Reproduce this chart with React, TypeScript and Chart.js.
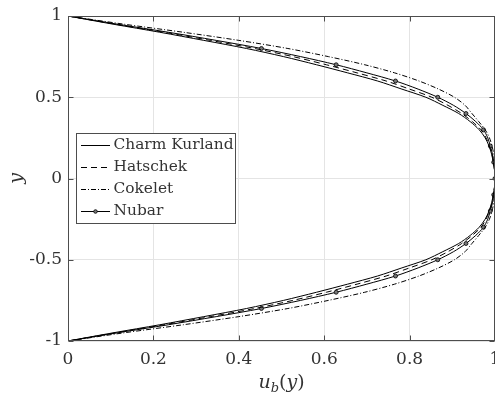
import React, { useEffect, useRef } from 'react';
import { Chart, registerables } from 'chart.js';

Chart.register(...registerables);

// y positions (vertical coordinate) shared by all profiles
const Y_VALUES = [
  1, 0.95, 0.9, 0.85, 0.8, 0.75, 0.7, 0.65, 0.6, 0.55, 0.5, 0.45, 0.4, 0.35, 0.3, 0.25, 0.2, 0.15, 0.1, 0.05, 0,
  -0.05, -0.1, -0.15, -0.2, -0.25, -0.3, -0.35, -0.4, -0.45, -0.5, -0.55, -0.6, -0.65, -0.7, -0.75, -0.8, -0.85, -0.9, -0.95, -1,
];

// u_b(y) for each model
const CHARM_KURLAND = [
  0, 0.105, 0.215, 0.318, 0.418, 0.505, 0.582, 0.655, 0.725, 0.782, 0.838, 0.878, 0.915, 0.942, 0.963, 0.977, 0.986, 0.992, 0.996, 0.999, 1,
  0.999, 0.996, 0.992, 0.986, 0.977, 0.963, 0.942, 0.915, 0.878, 0.838, 0.782, 0.725, 0.655, 0.582, 0.505, 0.418, 0.318, 0.215, 0.105, 0,
];
const HATSCHEK = [
  0, 0.11, 0.225, 0.333, 0.437, 0.527, 0.605, 0.677, 0.745, 0.8, 0.852, 0.89, 0.922, 0.947, 0.967, 0.979, 0.987, 0.993, 0.996, 0.999, 1,
  0.999, 0.996, 0.993, 0.987, 0.979, 0.967, 0.947, 0.922, 0.89, 0.852, 0.8, 0.745, 0.677, 0.605, 0.527, 0.437, 0.333, 0.225, 0.11, 0,
];
const COKELET = [
  0, 0.13, 0.27, 0.4, 0.515, 0.61, 0.695, 0.765, 0.822, 0.868, 0.905, 0.93, 0.946, 0.962, 0.977, 0.987, 0.993, 0.997, 0.999, 1, 1,
  1, 0.999, 0.997, 0.993, 0.987, 0.977, 0.962, 0.946, 0.93, 0.905, 0.868, 0.822, 0.765, 0.695, 0.61, 0.515, 0.4, 0.27, 0.13, 0,
];
const NUBAR = [
  0, 0.115, 0.235, 0.347, 0.453, 0.545, 0.628, 0.7, 0.767, 0.82, 0.866, 0.903, 0.932, 0.955, 0.973, 0.983, 0.989, 0.994, 0.997, 0.999, 1,
  0.999, 0.997, 0.994, 0.989, 0.983, 0.973, 0.955, 0.932, 0.903, 0.866, 0.82, 0.767, 0.7, 0.628, 0.545, 0.453, 0.347, 0.235, 0.115, 0,
];

const SERIES_NAMES = ['Charm Kurland', 'Hatschek', 'Cokelet', 'Nubar'];

const X_TICK_VALUES = [0, 0.2, 0.4, 0.6, 0.8, 1];
const X_TICK_LABELS = ['0', '0.2', '0.4', '0.6', '0.8', '1'];
const Y_TICK_VALUES = [-1, -0.5, 0, 0.5, 1];
const Y_TICK_LABELS = ['-1', '-0.5', '0', '0.5', '1'];

const FONT = "'DejaVu Serif', serif";
const TEXT_COLOR = '#333333';
const AXIS_COLOR = '#4d4d4d';
const GRID_COLOR = '#e4e4e4';

const DASHES: number[][] = [[], [6, 4], [5, 2, 1, 2], []];

function toPoints(us: number[]) {
  return us.map((u, i) => ({ x: u, y: Y_VALUES[i] }));
}

const nubarRadius = Y_VALUES.map((y) => {
  const t = y * 10;
  return Math.abs(t - Math.round(t)) < 1e-6 && Math.abs(y) <= 0.8 + 1e-9 ? 2 : 0;
});

const decorPlugin = {
  id: 'matlabDecor',
  afterDraw(chart: any) {
    const { ctx, chartArea: a, scales } = chart;
    const xs = scales.x;
    const ys = scales.y;
    ctx.save();
    // box
    ctx.strokeStyle = AXIS_COLOR;
    ctx.lineWidth = 1;
    ctx.setLineDash([]);
    const L = a.left + 0.5, R = a.right - 0.5, T = a.top + 0.5, B = a.bottom - 0.5;
    ctx.strokeRect(L, T, R - L, B - T);
    // inward ticks
    const tl = 5;
    ctx.beginPath();
    X_TICK_VALUES.forEach((v) => {
      const px = Math.round(xs.getPixelForValue(v)) + 0.5;
      ctx.moveTo(px, B); ctx.lineTo(px, B - tl);
      ctx.moveTo(px, T); ctx.lineTo(px, T + tl);
    });
    Y_TICK_VALUES.forEach((v) => {
      const py = Math.round(ys.getPixelForValue(v)) + 0.5;
      ctx.moveTo(L, py); ctx.lineTo(L + tl, py);
      ctx.moveTo(R, py); ctx.lineTo(R - tl, py);
    });
    ctx.stroke();

    // axis titles
    ctx.fillStyle = TEXT_COLOR;
    ctx.textBaseline = 'middle';
    ctx.textAlign = 'center';
    ctx.save();
    ctx.translate(19, (a.top + a.bottom) / 2);
    ctx.rotate(-Math.PI / 2);
    ctx.font = `italic 19px ${FONT}`;
    ctx.fillText('y', 0, -2);
    ctx.restore();

    // x title: u_b(y)
    const parts = [
      { t: 'u', f: `italic 19px ${FONT}`, dy: 0 },
      { t: 'b', f: `italic 13px ${FONT}`, dy: 4 },
      { t: '(', f: `19px ${FONT}`, dy: 0 },
      { t: 'y', f: `italic 19px ${FONT}`, dy: 0 },
      { t: ')', f: `19px ${FONT}`, dy: 0 },
    ];
    ctx.textAlign = 'left';
    ctx.textBaseline = 'alphabetic';
    let total = 0;
    const widths = parts.map((p) => { ctx.font = p.f; const w = ctx.measureText(p.t).width; total += w; return w; });
    let cx = (a.left + a.right) / 2 - total / 2;
    const base = 388;
    parts.forEach((p, i) => {
      ctx.font = p.f;
      ctx.fillText(p.t, cx, base + p.dy);
      cx += widths[i];
    });

    // legend
    const lx = 76.5, ly = 133.5, lw = 159, lh = 90;
    ctx.fillStyle = '#ffffff';
    ctx.fillRect(lx, ly, lw, lh);
    ctx.strokeStyle = AXIS_COLOR;
    ctx.lineWidth = 1;
    ctx.strokeRect(lx, ly, lw, lh);
    ctx.font = `15.4px ${FONT}`;
    ctx.textBaseline = 'middle';
    ctx.textAlign = 'left';
    SERIES_NAMES.forEach((name, i) => {
      const ry = 144.5 + i * 22.3;
      const yy = Math.round(ry) + 0.5;
      ctx.strokeStyle = '#000';
      ctx.lineWidth = 1;
      ctx.setLineDash(DASHES[i]);
      ctx.beginPath();
      ctx.moveTo(81, yy);
      ctx.lineTo(110, yy);
      ctx.stroke();
      ctx.setLineDash([]);
      if (i === 3) {
        ctx.beginPath();
        ctx.arc(95.5, yy, 1.8, 0, Math.PI * 2);
        ctx.fillStyle = '#777';
        ctx.fill();
        ctx.strokeStyle = '#000';
        ctx.lineWidth = 0.8;
        ctx.stroke();
      }
      ctx.fillStyle = TEXT_COLOR;
      ctx.fillText(name, 113.5, ry);
    });
    ctx.restore();
  },
};

export default function App() {
  const ref = useRef<HTMLCanvasElement | null>(null);
  useEffect(() => {
    if (!ref.current) return;
    const seriesData = [CHARM_KURLAND, HATSCHEK, COKELET, NUBAR];
    const chart = new Chart(ref.current, {
      type: 'scatter',
      data: {
        datasets: seriesData.map((d, i) => ({
          label: SERIES_NAMES[i],
          data: toPoints(d),
          showLine: true,
          borderColor: '#000000',
          borderWidth: 1,
          borderDash: DASHES[i],
          tension: 0.3,
          pointRadius: i === 3 ? nubarRadius : 0,
          pointHoverRadius: 0,
          pointBackgroundColor: '#777777',
          pointBorderColor: '#000000',
          pointBorderWidth: 0.8,
          fill: false,
        })),
      },
      options: {
        responsive: false,
        animation: false,
        events: [],
        layout: { padding: { top: 16, right: 0, left: 0, bottom: 0 }, autoPadding: false },
        plugins: { legend: { display: false }, tooltip: { enabled: false }, title: { display: false } },
        scales: {
          x: {
            type: 'linear',
            min: 0,
            max: 1,
            afterBuildTicks: (s: any) => { s.ticks = X_TICK_VALUES.map((v) => ({ value: v })); },
            afterFit: (s: any) => { s.height = 57; s.paddingLeft = 0; s.paddingRight = 0; },
            ticks: {
              autoSkip: false,
              maxRotation: 0,
              padding: 8,
              color: TEXT_COLOR,
              font: { family: FONT, size: 17 },
              callback: (_v: any, i: number) => X_TICK_LABELS[i],
            },
            grid: { color: GRID_COLOR, lineWidth: 1, drawTicks: false },
            border: { display: false },
          },
          y: {
            type: 'linear',
            min: -1,
            max: 1,
            afterBuildTicks: (s: any) => { s.ticks = Y_TICK_VALUES.map((v) => ({ value: v })); },
            afterFit: (s: any) => { s.width = 68; s.paddingTop = 0; s.paddingBottom = 0; },
            ticks: {
              autoSkip: false,
              padding: 6,
              color: TEXT_COLOR,
              font: { family: FONT, size: 17 },
              callback: (_v: any, i: number) => Y_TICK_LABELS[i],
            },
            grid: { color: GRID_COLOR, lineWidth: 1, drawTicks: false },
            border: { display: false },
          },
        },
      },
      plugins: [decorPlugin],
    } as any);
    return () => chart.destroy();
  }, []);
  return (
    <div style={{ position: 'absolute', left: 0, top: 0, width: 495, height: 398, background: '#fff' }}>
      <canvas ref={ref} width={495} height={398} style={{ display: 'block' }} />
    </div>
  );
}
